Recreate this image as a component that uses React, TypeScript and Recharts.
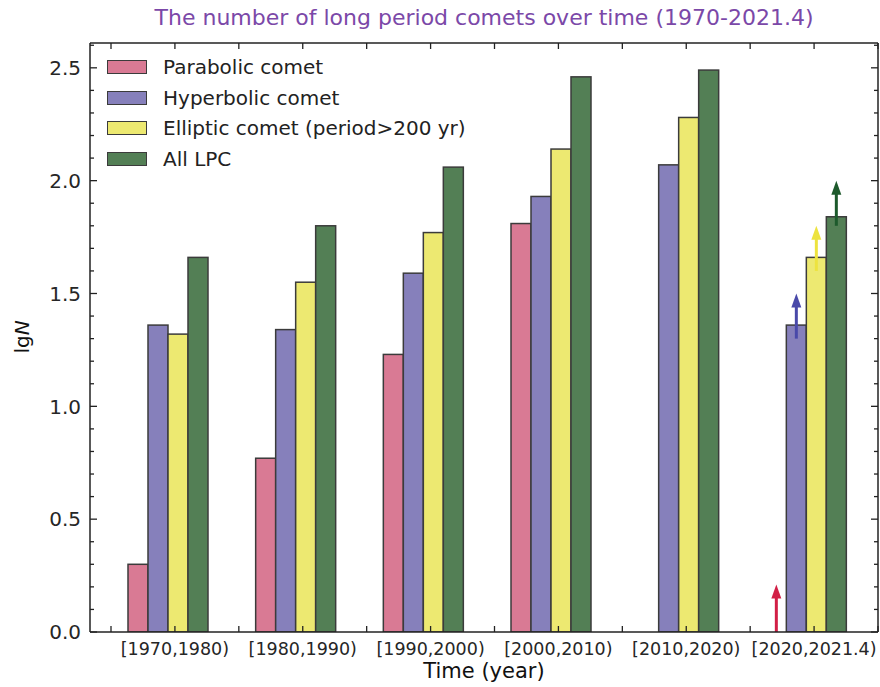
import React from 'react';
import { ComposedChart, Bar, XAxis, YAxis } from 'recharts';

const periods = ['[1970,1980)', '[1980,1990)', '[1990,2000)', '[2000,2010)', '[2010,2020)', '[2020,2021.4)'];
const parabolic = [0.30, 0.77, 1.23, 1.81, 0, 0];
const hyperbolic = [1.36, 1.34, 1.59, 1.93, 2.07, 1.36];
const elliptic = [1.32, 1.55, 1.77, 2.14, 2.28, 1.66];
const allLpc = [1.66, 1.80, 2.06, 2.46, 2.49, 1.84];

// lower-limit arrows for the unfinished last interval: [from, to]
const parabolicArrow = [null, null, null, null, null, [0, 0.21]];
const hyperbolicArrow = [null, null, null, null, null, [1.30, 1.50]];
const ellipticArrow = [null, null, null, null, null, [1.60, 1.80]];
const allLpcArrow = [null, null, null, null, null, [1.80, 2.00]];

const seriesKeys = ['parabolic', 'hyperbolic', 'elliptic', 'allLpc'];
const seriesNames = ['Parabolic comet', 'Hyperbolic comet', 'Elliptic comet (period>200 yr)', 'All LPC'];
const seriesColors = ['#d97a94', '#8680bb', '#ede971', '#537f55'];
const arrowColors = ['#d21f46', '#4949a9', '#ede33f', '#1d5a2c'];

const yTicks = [0, 0.1, 0.2, 0.3, 0.4, 0.5, 0.6, 0.7, 0.8, 0.9, 1.0, 1.1, 1.2, 1.3, 1.4, 1.5, 1.6, 1.7, 1.8, 1.9, 2.0, 2.1, 2.2, 2.3, 2.4, 2.5, 2.6];

const Y_MAX = 2.61;
const LAB_PAD_LEFT = 21;

const data = periods.map((period, i) => ({
  period,
  parabolic: parabolic[i],
  hyperbolic: hyperbolic[i],
  elliptic: elliptic[i],
  allLpc: allLpc[i],
  parabolicArrow: parabolicArrow[i],
  hyperbolicArrow: hyperbolicArrow[i],
  ellipticArrow: ellipticArrow[i],
  allLpcArrow: allLpcArrow[i],
}));

const FONT = '"DejaVu Sans", sans-serif';
const AXIS = '#222';

function ArrowBar(props: any) {
  const { x, y, width, height, fill, payload, background, arrowKey, arrowColor } = props;
  const arrow = payload ? payload[arrowKey] : null;
  const top = background && background.height ? background.y : 43;
  const h = background && background.height ? background.height : 589;
  const toY = (v: number) => top + h * (1 - v / Y_MAX);
  let arrowEl = null;
  if (arrow) {
    const cx = x + width / 2;
    const y0 = toY(arrow[0]);
    const y1 = toY(arrow[1]);
    const head = 14;
    arrowEl = (
      <g>
        <line x1={cx} y1={y0} x2={cx} y2={y1 + head - 2} stroke={arrowColor} strokeWidth={3} />
        <polygon points={`${cx},${y1} ${cx - 5},${y1 + head} ${cx + 5},${y1 + head}`} fill={arrowColor} />
      </g>
    );
  }
  return (
    <g>
      <rect x={x} y={y} width={width} height={Math.max(height, 0)} fill={fill} stroke="#3b3b3b" strokeWidth={1.5} />
      {arrowEl}
    </g>
  );
}

function LeftTick(props: any) {
  const { x, y, payload } = props;
  const v = payload.value;
  const major = Math.abs(v * 2 - Math.round(v * 2)) < 1e-6;
  const ax = x + 9;
  return (
    <g>
      <line x1={ax} y1={y} x2={ax + (major ? 7 : 4)} y2={y} stroke={AXIS} strokeWidth={1.3} />
      {major && (
        <text x={x} y={y} dy="0.36em" textAnchor="end" fontSize={20} fill="#262626" fontFamily={FONT}>
          {v.toFixed(1)}
        </text>
      )}
    </g>
  );
}

function RightTick(props: any) {
  const { x, y, payload } = props;
  const v = payload.value;
  const major = Math.abs(v * 2 - Math.round(v * 2)) < 1e-6;
  return <line x1={x} y1={y} x2={x - (major ? 7 : 4)} y2={y} stroke={AXIS} strokeWidth={1.3} />;
}

// half-band from the axis width the library hands to the tick
function halfBand(props: any) {
  const w = typeof props.width === 'number' && props.width > 100 ? props.width : 788;
  return (w - LAB_PAD_LEFT) / periods.length / 2;
}

function BottomTick(props: any) {
  const { x, y, payload, index } = props;
  const hb = halfBand(props);
  const marks = [x - hb, x];
  if (index === periods.length - 1) marks.push(x + hb);
  return (
    <g>
      {marks.map((mx, k) => (
        <line key={k} x1={mx} y1={y} x2={mx} y2={y - 6} stroke={AXIS} strokeWidth={1.3} />
      ))}
      <text x={x} y={y + 23} textAnchor="middle" fontSize={17.5} fill="#262626" fontFamily={FONT}>
        {payload.value}
      </text>
    </g>
  );
}

function TopTick(props: any) {
  const { x, y, index } = props;
  const hb = halfBand(props);
  const marks = [x - hb, x];
  if (index === periods.length - 1) marks.push(x + hb);
  return (
    <g>
      {marks.map((mx, k) => (
        <line key={k} x1={mx} y1={y} x2={mx} y2={y + 6} stroke={AXIS} strokeWidth={1.3} />
      ))}
    </g>
  );
}

export default function App() {
  return (
    <div style={{ position: 'absolute', left: 0, top: 0, width: 880, height: 687, background: '#fff', fontFamily: FONT }}>
      <ComposedChart
        width={880}
        height={687}
        data={data}
        margin={{ top: 42, right: 1, bottom: 25, left: 0 }}
        barGap={0}
      >
        <XAxis xAxisId="cat" dataKey="period" hide height={0} padding={{ left: 14, right: 8 }} />
        <XAxis
          xAxisId="lab"
          dataKey="period"
          padding={{ left: LAB_PAD_LEFT, right: 0 }}
          interval={0}
          height={30}
          tickSize={0}
          tickMargin={0}
          tickLine={false}
          axisLine={{ stroke: AXIS, strokeWidth: 1.5 }}
          tick={<BottomTick />}
        />
        <XAxis
          xAxisId="top"
          orientation="top"
          dataKey="period"
          padding={{ left: LAB_PAD_LEFT, right: 0 }}
          interval={0}
          height={1}
          tickSize={0}
          tickMargin={0}
          tickLine={false}
          axisLine={{ stroke: AXIS, strokeWidth: 1.5 }}
          tick={<TopTick />}
        />
        <YAxis
          yAxisId="left"
          domain={[0, Y_MAX]}
          allowDataOverflow
          ticks={yTicks}
          interval={0}
          width={90}
          tickSize={0}
          tickMargin={9}
          tickLine={false}
          axisLine={{ stroke: AXIS, strokeWidth: 1.5 }}
          tick={<LeftTick />}
        />
        <YAxis
          yAxisId="right"
          orientation="right"
          domain={[0, Y_MAX]}
          allowDataOverflow
          ticks={yTicks}
          interval={0}
          width={1}
          tickSize={0}
          tickMargin={0}
          tickLine={false}
          axisLine={{ stroke: AXIS, strokeWidth: 1.5 }}
          tick={<RightTick />}
        />
        {seriesKeys.map((key, i) => (
          <Bar
            key={key}
            xAxisId="cat"
            yAxisId="left"
            dataKey={key}
            name={seriesNames[i]}
            fill={seriesColors[i]}
            barSize={20}
            isAnimationActive={false}
            shape={(p: any) => <ArrowBar {...p} arrowKey={key + 'Arrow'} arrowColor={arrowColors[i]} />}
          />
        ))}
      </ComposedChart>

      <div style={{ position: 'absolute', left: 90, width: 788, top: 5, textAlign: 'center', fontSize: 22, color: '#7b48a8', lineHeight: '26px' }}>
        The number of long period comets over time (1970-2021.4)
      </div>
      <div style={{ position: 'absolute', left: 90, width: 788, top: 658, textAlign: 'center', fontSize: 21, color: '#111', lineHeight: '26px' }}>
        Time (year)
      </div>
      <div
        style={{
          position: 'absolute',
          left: 22,
          top: 337,
          transform: 'translate(-50%, -50%) rotate(-90deg)',
          fontSize: 20,
          color: '#111',
          whiteSpace: 'nowrap',
        }}
      >
        lg<i>N</i>
      </div>
      <div style={{ position: 'absolute', left: 107, top: 52 }}>
        {seriesNames.map((name, i) => (
          <div key={name} style={{ display: 'flex', alignItems: 'center', height: 30.5 }}>
            <div style={{ width: 40, height: 14, background: seriesColors[i], border: '1.5px solid #3b3b3b', boxSizing: 'border-box' }} />
            <span style={{ marginLeft: 16, fontSize: 20, color: '#222', whiteSpace: 'nowrap' }}>{name}</span>
          </div>
        ))}
      </div>
    </div>
  );
}
